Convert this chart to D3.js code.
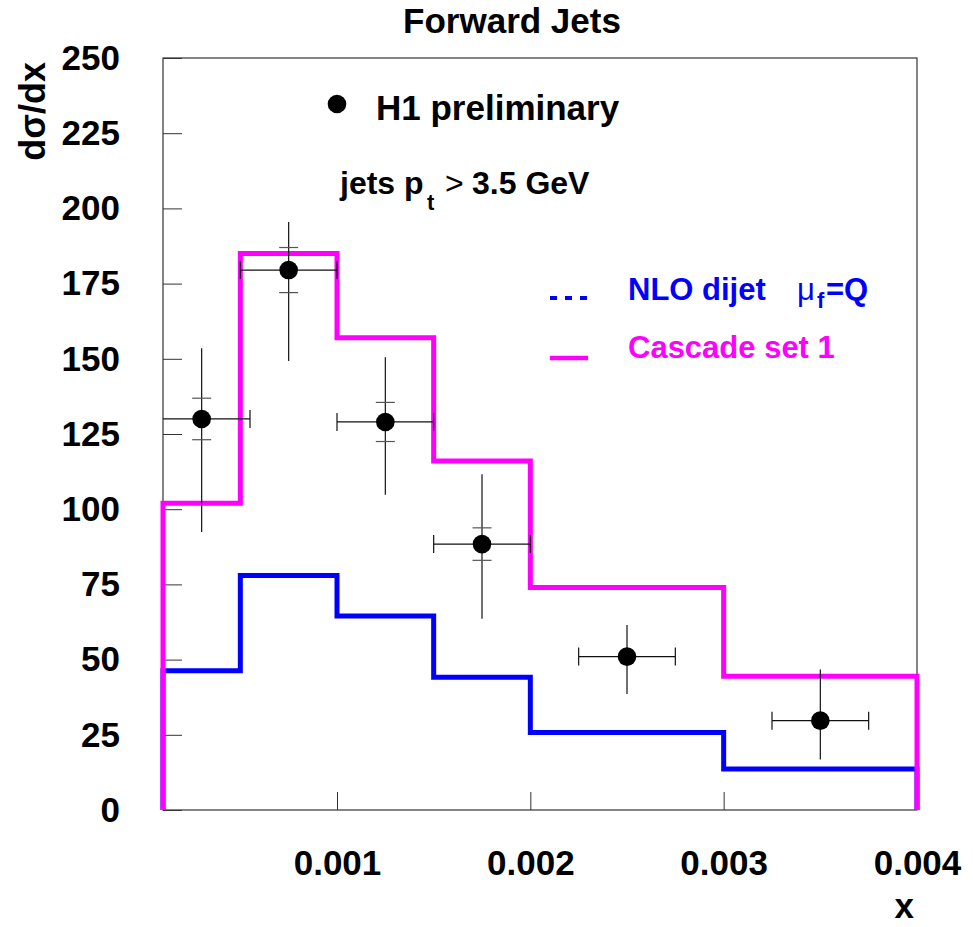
<!DOCTYPE html>
<html>
<head>
<meta charset="utf-8">
<script src="https://cdn.jsdelivr.net/npm/d3@7"></script>
<style>
  body { margin: 0; background: #fff; }
  svg { display: block; }
  text { font-family: "Liberation Sans", Arial, Helvetica, sans-serif; font-weight: bold; }
  .axis path { display: none; }
  .axis line { stroke: #333; stroke-width: 1; }
</style>
</head>
<body>
<svg id="chart"></svg>
<script>
// bin edges in x and the two theory histograms
const binEdges = [0.0001, 0.0005, 0.001, 0.0015, 0.002, 0.003, 0.004];
const nloValues = [46.3, 78, 64.5, 44.1, 25.8, 13.6];
const cascadeValues = [102, 185, 157, 116, 74, 44.5];

// H1 preliminary data points
const dataX = [0.0003, 0.00075, 0.00125, 0.00175, 0.0025, 0.0035];
const dataY = [130, 179.5, 129, 88.4, 51, 29.7];
const xErr = [0.00025, 0.00025, 0.00025, 0.00025, 0.00025, 0.00025];
const statErr = [6.9, 7.5, 6.5, 5.4, 0, 0];
const totErrUp = [23.5, 16, 21.5, 23.2, 10.5, 17];
const totErrDown = [37.6, 30.2, 24.2, 24.8, 12.4, 12.9];

const xTicks = [0.001, 0.002, 0.003, 0.004];
const yTicks = [0, 25, 50, 75, 100, 125, 150, 175, 200, 225, 250];

const W = 973, H = 927;
const margin = { top: 58, right: 56, bottom: 117, left: 163 };

const svg = d3.select('#chart').attr('width', W).attr('height', H);

const x = d3.scaleLinear().domain([0.0001, 0.004]).range([margin.left, W - margin.right]);
const y = d3.scaleLinear().domain([0, 250]).range([H - margin.bottom, margin.top]);

// frame
svg.append('rect')
  .attr('x', x.range()[0]).attr('y', y.range()[1])
  .attr('width', x.range()[1] - x.range()[0])
  .attr('height', y.range()[0] - y.range()[1])
  .attr('fill', 'none').attr('stroke', '#333').attr('stroke-width', 1.2);

// axes, ticks point inward
svg.append('g').attr('class', 'axis')
  .attr('transform', `translate(${margin.left},0)`)
  .call(d3.axisLeft(y).tickValues(yTicks).tickSizeInner(-19).tickSizeOuter(0).tickPadding(43))
  .selectAll('text').style('font-size', '35px').style('fill', '#000');

svg.append('g').attr('class', 'axis')
  .attr('transform', `translate(0,${H - margin.bottom})`)
  .call(d3.axisBottom(x).tickValues(xTicks).tickFormat(d3.format('.3f')).tickSizeInner(-18).tickSizeOuter(0).tickPadding(40))
  .selectAll('text').style('font-size', '35px').style('fill', '#000');

// histogram outline: up from 0 at the left edge, steps, down to 0 at the right edge
function histLine(values) {
  const pts = [[binEdges[0], 0]];
  values.forEach((v, i) => {
    pts.push([binEdges[i], v]);
    pts.push([binEdges[i + 1], v]);
  });
  pts.push([binEdges[binEdges.length - 1], 0]);
  return d3.line().x(d => x(d[0])).y(d => y(d[1]))(pts);
}

svg.append('path').attr('d', histLine(nloValues))
  .attr('fill', 'none').attr('stroke', '#0000ff').attr('stroke-width', 5);
svg.append('path').attr('d', histLine(cascadeValues))
  .attr('fill', 'none').attr('stroke', '#ff00ff').attr('stroke-width', 5);

// data points with error bars
const pts = dataX.map((d, i) => ({
  x: d, y: dataY[i], xe: xErr[i], st: statErr[i], up: totErrUp[i], dn: totErrDown[i]
}));
const xMin = x.domain()[0];

const g = svg.append('g').attr('stroke', '#111').attr('stroke-width', 1.2);
pts.forEach(p => {
  const x0 = Math.max(p.x - p.xe, xMin), x1 = p.x + p.xe;
  g.append('line').attr('x1', x(x0)).attr('x2', x(x1)).attr('y1', y(p.y)).attr('y2', y(p.y));
  if (p.x - p.xe >= xMin) {
    g.append('line').attr('x1', x(x0)).attr('x2', x(x0)).attr('y1', y(p.y) - 9).attr('y2', y(p.y) + 9);
  }
  g.append('line').attr('x1', x(x1)).attr('x2', x(x1)).attr('y1', y(p.y) - 9).attr('y2', y(p.y) + 9);
  g.append('line').attr('x1', x(p.x)).attr('x2', x(p.x)).attr('y1', y(p.y + p.up)).attr('y2', y(p.y - p.dn));
  if (p.st > 0) {
    [p.y + p.st, p.y - p.st].forEach(v => {
      g.append('line').attr('stroke', '#555')
        .attr('x1', x(p.x) - 9.5).attr('x2', x(p.x) + 9.5).attr('y1', y(v)).attr('y2', y(v));
    });
  }
});

svg.selectAll('circle.pt').data(pts).join('circle')
  .attr('class', 'pt')
  .attr('cx', d => x(d.x)).attr('cy', d => y(d.y)).attr('r', 9.3).attr('fill', '#000');

// titles
svg.append('text').attr('x', 512).attr('y', 33).attr('text-anchor', 'middle')
  .style('font-size', '35px').text('Forward Jets');

svg.append('text').attr('transform', 'translate(45,62) rotate(-90)')
  .attr('text-anchor', 'end').style('font-size', '36px').text('dσ/dx');

svg.append('text').attr('x', 914).attr('y', 918).attr('text-anchor', 'end')
  .style('font-size', '35px').text('x');

// legend: data
svg.append('circle').attr('cx', 337).attr('cy', 104).attr('r', 9.3).attr('fill', '#000');
svg.append('text').attr('x', 376).attr('y', 120).style('font-size', '35px').text('H1 preliminary');

const cut = svg.append('text').attr('y', 194).style('font-size', '32px');
cut.append('tspan').attr('x', 340).text('jets p');
cut.append('tspan').attr('x', 427).attr('y', 210).style('font-size', '22px').text('t');
cut.append('tspan').attr('x', 445).attr('y', 194).style('font-weight', 'normal').text('>');
cut.append('tspan').attr('x', 472).text('3.5 GeV');

// legend: theory
svg.append('line').attr('x1', 550).attr('x2', 588).attr('y1', 298).attr('y2', 298)
  .attr('stroke', '#0000ff').attr('stroke-width', 4).attr('stroke-dasharray', '7,8');
const nlo = svg.append('text').attr('y', 300).style('font-size', '31px').style('fill', '#0000ff');
nlo.append('tspan').attr('x', 628).text('NLO dijet');
nlo.append('tspan').attr('x', 797).style('font-weight', 'normal').text('μ');
nlo.append('tspan').attr('x', 817).attr('y', 308).style('font-size', '22px').text('f');
nlo.append('tspan').attr('x', 826).attr('y', 300).text('=Q');

svg.append('line').attr('x1', 550).attr('x2', 588).attr('y1', 358).attr('y2', 358)
  .attr('stroke', '#ff00ff').attr('stroke-width', 4.5);
svg.append('text').attr('x', 628).attr('y', 358).style('font-size', '31px').style('fill', '#ff00ff')
  .text('Cascade set 1');
</script>
</body>
</html>
